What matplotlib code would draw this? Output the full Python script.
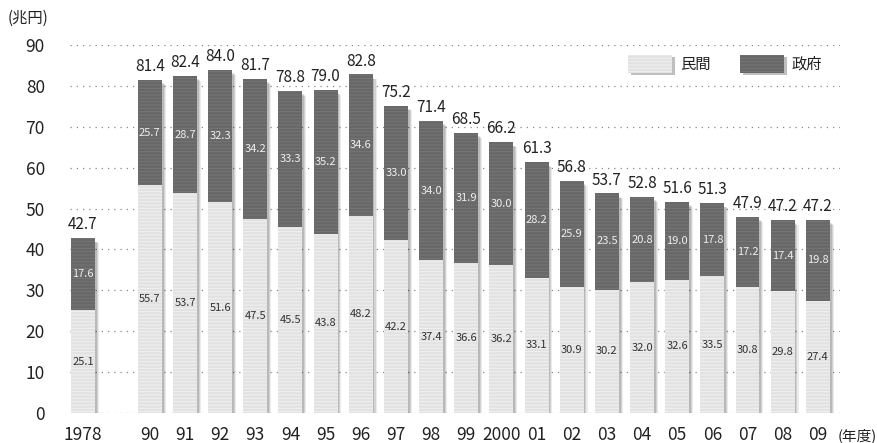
import matplotlib
matplotlib.use("Agg")
import matplotlib.pyplot as plt
from matplotlib.patches import Rectangle
import numpy as np

plt.rcParams["font.family"] = ["Noto Sans CJK JP", "DejaVu Sans"]
plt.rcParams["hatch.linewidth"] = 0.6

# ── データ（兆円） ──
years = ["1978", "90", "91", "92", "93", "94", "95", "96", "97", "98", "99",
         "2000", "01", "02", "03", "04", "05", "06", "07", "08", "09"]
minkan = [25.1, 55.7, 53.7, 51.6, 47.5, 45.5, 43.8, 48.2, 42.2, 37.4, 36.6,
          36.2, 33.1, 30.9, 30.2, 32.0, 32.6, 33.5, 30.8, 29.8, 27.4]
seifu = [17.6, 25.7, 28.7, 32.3, 34.2, 33.3, 35.2, 34.6, 33.0, 34.0, 31.9,
         30.0, 28.2, 25.9, 23.5, 20.8, 19.0, 17.8, 17.2, 17.4, 19.8]
totals = [42.7, 81.4, 82.4, 84.0, 81.7, 78.8, 79.0, 82.8, 75.2, 71.4, 68.5,
          66.2, 61.3, 56.8, 53.7, 52.8, 51.6, 51.3, 47.9, 47.2, 47.2]

LIGHT, LIGHT_LINE = "#e2e2e2", "#f3f3f3"
DARK, DARK_LINE = "#686868", "#777777"

# 1978年だけ離して置く
x = np.array([0.0] + [1.9 + i for i in range(len(years) - 1)])
w = 0.68
minkan = np.array(minkan)
seifu = np.array(seifu)

fig = plt.figure(figsize=(8.78, 4.43), dpi=100)
ax = fig.add_axes([70 / 878, 30 / 443, 770 / 878, 368 / 443])

# 点線グリッド
for v in range(0, 91, 10):
    ax.axhline(v, color="#888888", lw=0.9, ls=(0, (1, 4)), zorder=0)

# ぼかし影
top = minkan + seifu
for k, a in enumerate([0.12, 0.10, 0.08]):
    dx = 0.05 + 0.03 * k
    ax.bar(x + dx, top - 0.3, bottom=-0.5 - 0.2 * k, width=w,
           color="#000000", alpha=a, linewidth=0, zorder=1)

ax.bar(x, minkan, width=w, color=LIGHT, edgecolor=LIGHT_LINE,
       hatch="-----", linewidth=0, zorder=2)
ax.bar(x, seifu, bottom=minkan, width=w, color=DARK, edgecolor=DARK_LINE,
       hatch="-----", linewidth=0, zorder=2)

# 数値ラベル
for xi, m, s, t in zip(x, minkan, seifu, totals):
    ax.text(xi, m / 2, f"{m:.1f}", ha="center", va="center", fontsize=8,
            color="#333333", zorder=3)
    ax.text(xi, m + s / 2, f"{s:.1f}", ha="center", va="center", fontsize=8,
            color="#eeeeee", zorder=3)
    ax.text(xi, m + s + 1.2, f"{t:.1f}", ha="center", va="bottom",
            fontsize=11, color="#222222", zorder=3)

ax.set_xlim(-0.37, x[-1] + 0.63)
ax.set_ylim(0, 90)
ax.set_yticks(range(0, 91, 10))
ax.set_xticks(x)
ax.set_xticklabels(years)
ax.tick_params(axis="both", length=0, labelsize=12.5, colors="#222222")
ax.tick_params(axis="y", pad=18)
ax.tick_params(axis="x", pad=9)
for sp in ax.spines.values():
    sp.set_visible(False)

fig.text(8 / 878, 1 - 18 / 443, "(兆円)", fontsize=11, va="center",
         ha="left", color="#222222")
fig.text(877 / 878, 1 - 436 / 443, "(年度)", fontsize=10.5, va="center",
         ha="right", color="#222222")

# 凡例
for x0, fc, lc, lab in [(0.725, LIGHT, LIGHT_LINE, "民間"),
                        (0.870, DARK, DARK_LINE, "政府")]:
    ax.add_patch(Rectangle((x0 + 0.004, 0.918), 0.057, 0.049,
                           transform=ax.transAxes, color="#000000",
                           alpha=0.25, linewidth=0, zorder=2))
    ax.add_patch(Rectangle((x0, 0.924), 0.057, 0.049, transform=ax.transAxes,
                           facecolor=fc, edgecolor=lc, hatch="-----",
                           linewidth=0, zorder=3))
    ax.text(x0 + 0.067, 0.948, lab, transform=ax.transAxes, fontsize=11,
            va="center", ha="left", color="#222222")

fig.savefig("out.png", dpi=100)
